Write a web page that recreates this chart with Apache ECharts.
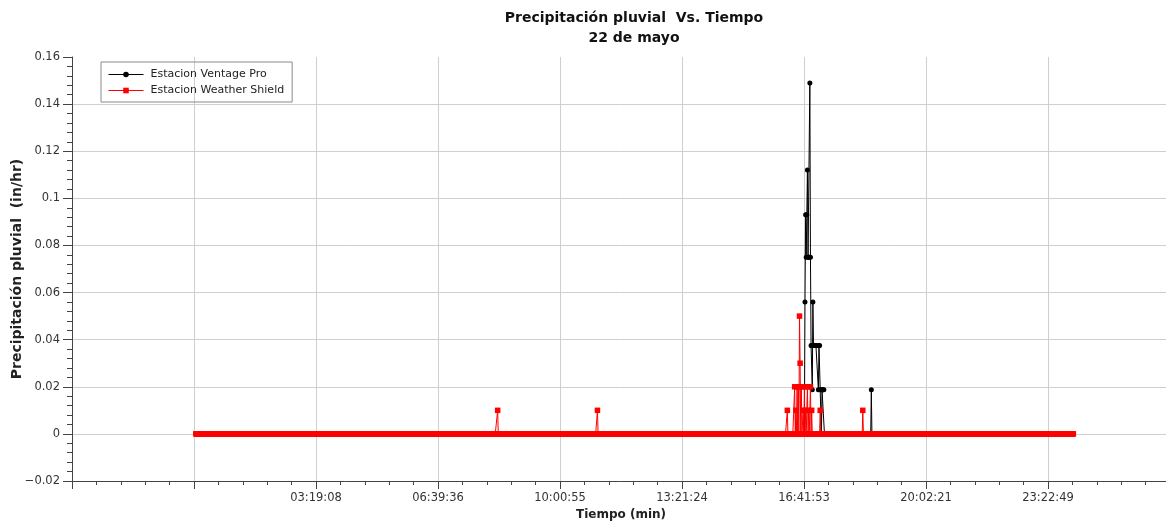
<!DOCTYPE html>
<html><head><meta charset="utf-8">
<script src="https://cdn.jsdelivr.net/npm/echarts@6/dist/echarts.min.js"></script>
<style>html,body{margin:0;padding:0;background:#fff}#c{width:1166px;height:527px}</style>
</head><body><div id="c"></div>
<script>
// ---- data ----
const titleLines = ['Precipitación pluvial  Vs. Tiempo', '22 de mayo'];
const seriesNames = ['Estacion Ventage Pro', 'Estacion Weather Shield'];
const xAxisName = 'Tiempo (min)';
const yAxisName = 'Precipitación pluvial  (in/hr)';
const xTickLabels = ['03:19:08', '06:39:36', '10:00:55', '13:21:24', '16:41:53', '20:02:21', '23:22:49'];
const xTickStepMin = 200.475;          // spacing of the labelled grid lines, minutes
const yMin = -0.02, yMax = 0.16, yStep = 0.02;
// one reading per minute; readings not listed below are 0
const recordStart = '00:03';
const recordEnd = '24:05';
const ventageEvents = [
  ['16:44', 0.056], ['16:45', 0.093], ['16:46', 0.075], ['16:47', 0.093], ['16:48', 0.112],
  ['16:49', 0.075], ['16:50', 0.075], ['16:51', 0.075], ['16:52', 0.149], ['16:53', 0.075],
  ['16:54', 0.0375], ['16:55', 0.0375], ['16:56', 0.0187], ['16:57', 0.056], ['16:58', 0.0375],
  ['16:59', 0.0375], ['17:00', 0.0375], ['17:01', 0.0375], ['17:02', 0.0375], ['17:03', 0.0375],
  ['17:04', 0.0375], ['17:05', 0.0375], ['17:06', 0.0187], ['17:07', 0.0375], ['17:08', 0.0375],
  ['17:09', 0.0187], ['17:10', 0.0187], ['17:12', 0.0187], ['17:13', 0.0187], ['17:14', 0.0187],
  ['17:15', 0.0187], ['18:33', 0.0187]
];
const shieldEvents = [
  ['08:19', 0.01], ['11:03', 0.01], ['16:15', 0.01], ['16:27', 0.02], ['16:29', 0.01],
  ['16:31', 0.02], ['16:33', 0.02], ['16:35', 0.05], ['16:36', 0.03], ['16:38', 0.02],
  ['16:41', 0.01], ['16:43', 0.02], ['16:45', 0.01], ['16:48', 0.02], ['16:50', 0.01],
  ['16:53', 0.02], ['16:55', 0.01], ['17:09', 0.01], ['18:19', 0.01]
];

// ---- build series ----
function toMin(s) { const p = s.split(':'); return (+p[0]) * 60 + (+p[1]); }
function buildSeries(events) {
  const map = new Map(events.map(e => [toMin(e[0]), e[1]]));
  const out = [];
  for (let m = toMin(recordStart); m <= toMin(recordEnd); m++) {
    out.push([m, map.has(m) ? map.get(m) : 0]);
  }
  return out;
}
const ventageData = buildSeries(ventageEvents);
const shieldData = buildSeries(shieldEvents);

const FONT = 'DejaVu Sans';
const chart = echarts.init(document.getElementById('c'), null, { renderer: 'canvas' });
chart.setOption({
  animation: false,
  backgroundColor: '#fff',
  title: {
    text: titleLines.join('\n'),
    left: 634, top: 8, textAlign: 'center', padding: 0,
    textStyle: { fontFamily: FONT, fontSize: 14, fontWeight: 'bold', color: '#111', lineHeight: 20 }
  },
  legend: {
    orient: 'vertical', left: 101, top: 62,
    padding: [7, 8, 6, 7], itemGap: 5, itemWidth: 35, itemHeight: 7,
    borderColor: '#8a8a8a', borderWidth: 1, borderRadius: 0,
    lineStyle: { width: 1 },
    textStyle: { fontFamily: FONT, fontSize: 11, color: '#222', padding: [0, 0, 0, 2] },
    data: seriesNames
  },
  grid: { left: 72, top: 57, width: 1098, height: 424, containLabel: false, outerBoundsMode: 'none' },
  xAxis: {
    type: 'value',
    min: -xTickStepMin, max: 8 * xTickStepMin, interval: xTickStepMin,
    name: xAxisName, nameLocation: 'middle', nameGap: 28, nameMoveOverlap: false,
    nameTextStyle: { fontFamily: FONT, fontSize: 12, fontWeight: 'bold', color: '#222' },
    axisLine: { show: true, onZero: false, lineStyle: { color: '#444', width: 1 } },
    axisTick: { show: true, inside: false, length: 8, lineStyle: { color: '#444' } },
    minorTick: { show: true, splitNumber: 5, length: 4, lineStyle: { color: '#444' } },
    splitLine: { show: true, lineStyle: { color: '#cfcfcf', width: 1 } },
    axisLabel: {
      margin: 11, fontFamily: FONT, fontSize: 11.5, color: '#333',
      showMinLabel: true, showMaxLabel: true,
      formatter: v => xTickLabels[Math.round(v / xTickStepMin) - 1] || ''
    }
  },
  yAxis: {
    type: 'value', min: yMin, max: yMax, interval: yStep,
    name: yAxisName, nameLocation: 'middle', nameGap: 48, nameMoveOverlap: false,
    nameTextStyle: { fontFamily: FONT, fontSize: 14, fontWeight: 'bold', color: '#222' },
    axisLine: { show: true, onZero: false, lineStyle: { color: '#444', width: 1 } },
    axisTick: { show: true, inside: false, length: 9, lineStyle: { color: '#444' } },
    minorTick: { show: true, splitNumber: 5, length: 5, lineStyle: { color: '#444' } },
    splitLine: { show: true, showMaxLine: false, lineStyle: { color: '#cfcfcf', width: 1 } },
    axisLabel: {
      margin: 12, fontFamily: FONT, fontSize: 11.5, color: '#333',
      formatter: v => String(Math.round(v * 1000) / 1000).replace('-', '\u2212')
    }
  },
  series: [
    {
      name: seriesNames[0], type: 'line', data: ventageData,
      showSymbol: true, showAllSymbol: true, symbol: 'circle', symbolSize: 5,
      lineStyle: { color: '#000', width: 1 }, itemStyle: { color: '#000' },
      emphasis: { disabled: true }, z: 2
    },
    {
      name: seriesNames[1], type: 'line', data: shieldData,
      showSymbol: true, showAllSymbol: true, symbol: 'rect', symbolSize: 5.5,
      lineStyle: { color: '#ff0000', width: 1 }, itemStyle: { color: '#ff0000' },
      emphasis: { disabled: true }, z: 3
    }
  ]
});
</script>
</body></html>
